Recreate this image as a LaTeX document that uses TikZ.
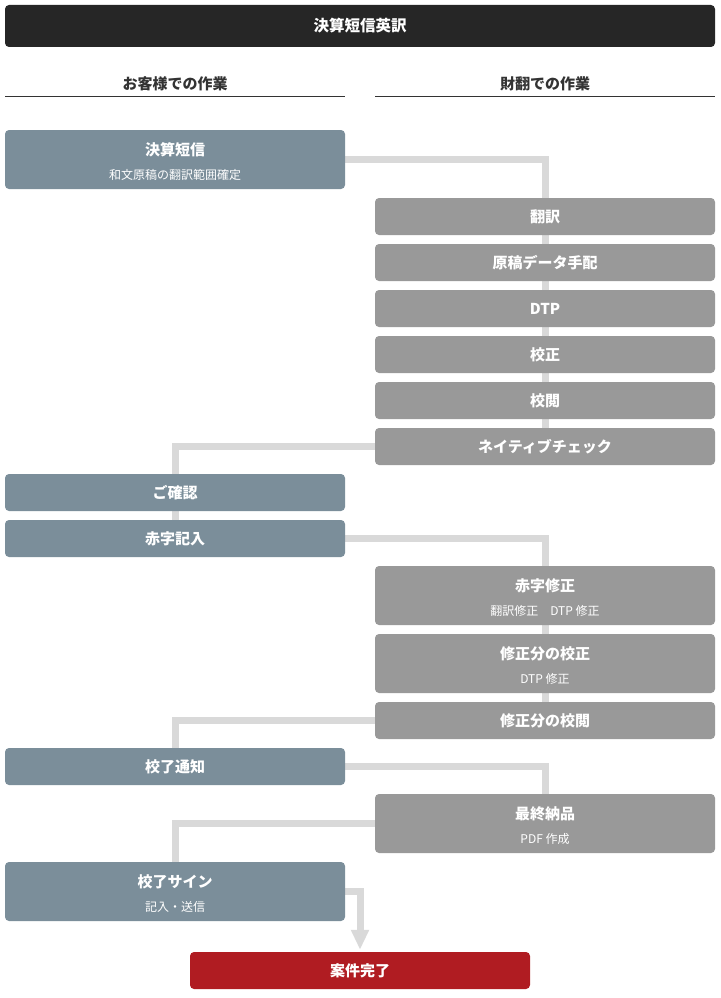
\documentclass[tikz,border=0pt]{standalone}
\usepackage{fontspec}
\setmainfont{Noto Sans CJK JP}
\usetikzlibrary{arrows.meta,backgrounds}
\definecolor{custc}{HTML}{7B8E9A}
\definecolor{oursc}{HTML}{999999}
\definecolor{donec}{HTML}{B01C22}
\definecolor{barc}{HTML}{262626}
\definecolor{connc}{HTML}{D9D9D9}
\definecolor{headc}{HTML}{333333}
\begin{document}
\begin{tikzpicture}[x=1pt,y=-1pt,
  box/.style={rounded corners=4pt, minimum width=340pt, inner sep=0pt, text=white,
    font=\fontsize{15}{17}\selectfont\bfseries},
  cbox/.style={box, fill=custc},
  obox/.style={box, fill=oursc},
  single/.style={minimum height=37pt},
  double/.style={minimum height=59pt},
  ttl/.style={text=white, inner sep=0pt, font=\fontsize{15}{17}\selectfont\bfseries},
  sub/.style={text=white, inner sep=0pt, font=\fontsize{12}{14}\selectfont},
  head/.style={text=headc, inner sep=0pt, font=\fontsize{15}{17}\selectfont\bfseries},
  rule/.style={draw=headc, line width=1pt},
  flow/.style={draw=connc, line width=7pt}
]
\useasboundingbox (0,0) rectangle (720,998);

% title bar
\node[box, fill=barc, minimum width=710pt, minimum height=42pt,
  font=\fontsize{15.5}{17}\selectfont\bfseries] (title) at (360,26) {決算短信英訳};

% column headers
\node[head] (hleft) at (175,83.5) {お客様での作業};
\node[head] (hright) at (545,83.5) {財翻での作業};
\draw[rule] (5,96) -- (345,96);
\draw[rule] (375,96) -- (715,96);

% customer boxes
\node[cbox, double] (kessan) at (175,159.5) {};
\node[ttl] (kessanT) at ([yshift=9.5pt]kessan.center) {決算短信};
\node[sub] (kessanS) at ([yshift=-15pt]kessan.center) {和文原稿の翻訳範囲確定};

\node[cbox, single] (gokakunin) at (175,492.5) {ご確認};
\node[cbox, single] (akaji) at (175,538.5) {赤字記入};
\node[cbox, single] (koryo) at (175,766.5) {校了通知};

\node[cbox, double] (sign) at (175,891.5) {};
\node[ttl] (signT) at ([yshift=9.5pt]sign.center) {校了サイン};
\node[sub] (signS) at ([yshift=-15pt]sign.center) {記入・送信};

% our boxes
\node[obox, single] (honyaku) at (545,216.5) {翻訳};
\node[obox, single] (genko) at (545,262.5) {原稿データ手配};
\node[obox, single] (dtp) at (545,308.5) {DTP};
\node[obox, single] (kosei) at (545,354.5) {校正};
\node[obox, single] (koetsu) at (545,400.5) {校閲};
\node[obox, single] (native) at (545,446.5) {ネイティブチェック};

\node[obox, double] (akajishusei) at (545,595.5) {};
\node[ttl] (akajishuseiT) at ([yshift=9.5pt]akajishusei.center) {赤字修正};
\node[sub] (akajishuseiS) at ([yshift=-15pt]akajishusei.center) {翻訳修正\hspace{1em}DTP 修正};

\node[obox, double] (shuseikosei) at (545,663.5) {};
\node[ttl] (shuseikoseiT) at ([yshift=9.5pt]shuseikosei.center) {修正分の校正};
\node[sub] (shuseikoseiS) at ([yshift=-15pt]shuseikosei.center) {DTP 修正};

\node[obox, single] (shuseikoetsu) at (545,720.5) {修正分の校閲};

\node[obox, double] (saishu) at (545,823.5) {};
\node[ttl] (saishuT) at ([yshift=9.5pt]saishu.center) {最終納品};
\node[sub] (saishuS) at ([yshift=-15pt]saishu.center) {PDF 作成};

% final
\node[box, fill=donec, single] (final) at (360,970.5) {案件完了};

% connectors
\begin{pgfonlayer}{background}
\draw[flow] (kessan.east) -| (honyaku.north);
\draw[flow] (honyaku.center) -- (native.center);
\draw[flow] (native.west) -| (gokakunin.north);
\draw[flow] (gokakunin.center) -- (akaji.center);
\draw[flow] (akaji.east) -| (akajishusei.north);
\draw[flow] (akajishusei.center) -- (shuseikoetsu.center);
\draw[flow] (shuseikoetsu.west) -| (koryo.north);
\draw[flow] (koryo.east) -| (saishu.north);
\draw[flow] (saishu.west) -| (sign.north);
\draw[flow, -{Triangle[width=17pt,length=20pt]}, shorten >=2pt] (sign.east) -| (final.north);
\end{pgfonlayer}
\end{tikzpicture}
\end{document}
